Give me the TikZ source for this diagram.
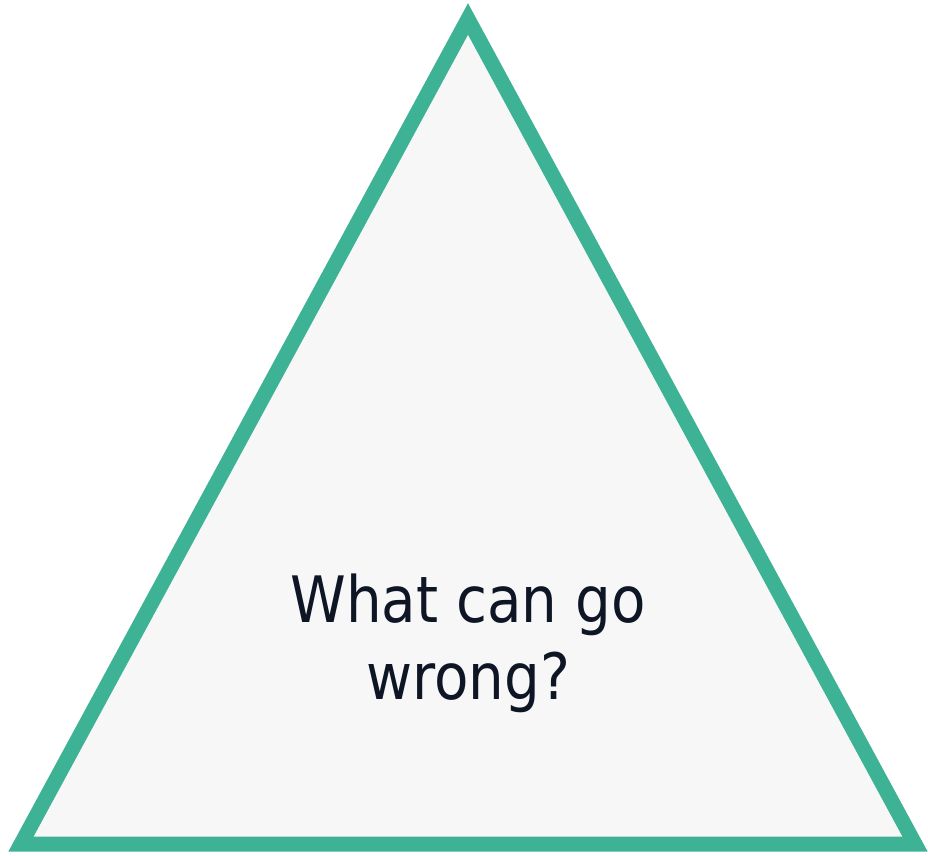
\documentclass[tikz,border=0pt]{standalone}
\usepackage{fontspec}
\setmainfont{DejaVu Sans}[FakeStretch=0.88]
\definecolor{tgreen}{RGB}{62,178,148}
\definecolor{tfill}{RGB}{247,247,247}
\definecolor{ttext}{RGB}{14,21,36}
\tikzset{tri/.style={draw=tgreen,fill=tfill,line width=15pt,line join=miter},
  lbl/.style={text=ttext,font=\fontsize{64}{77}\selectfont,align=center}}
\begin{document}
\begin{tikzpicture}[x=1pt,y=1pt]
\useasboundingbox (0,0) rectangle (928,855);
\coordinate (top) at (468,836);
\coordinate (bl) at (21,11);
\coordinate (br) at (915,11);
\draw[tri] (top) -- (bl) -- (br) -- cycle;
\node[lbl] (q) at (468,212) {What can go\\wrong?};
\end{tikzpicture}
\end{document}
